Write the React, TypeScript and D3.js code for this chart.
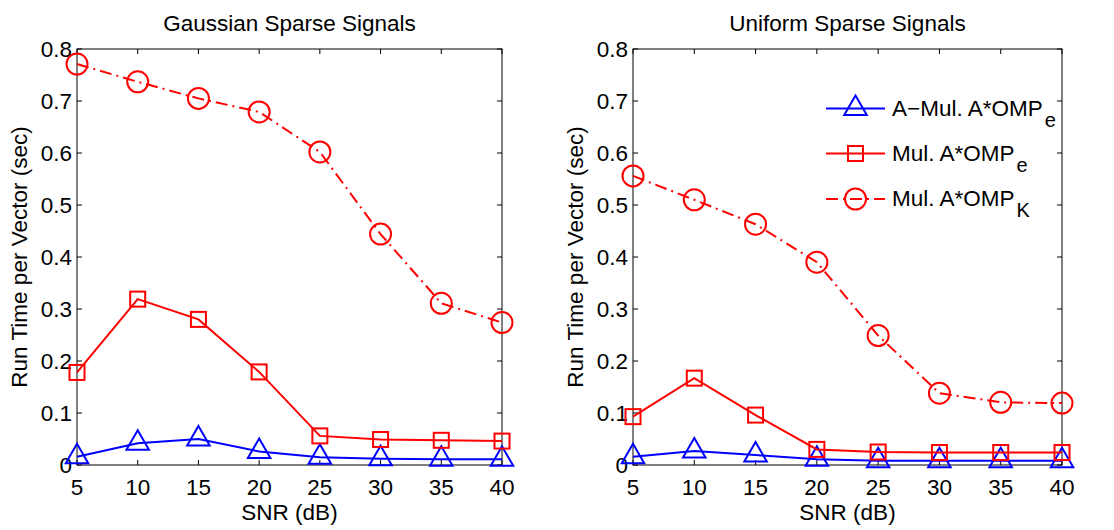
import React from "react";
import * as d3 from "d3";

const snr = [5, 10, 15, 20, 25, 30, 35, 40];
const xTicks = [5, 10, 15, 20, 25, 30, 35, 40];
const yTicks = [0, 0.1, 0.2, 0.3, 0.4, 0.5, 0.6, 0.7, 0.8];

const gaussAMulE = [0.016, 0.042, 0.05, 0.026, 0.015, 0.012, 0.011, 0.011];
const gaussMulE = [0.178, 0.319, 0.28, 0.179, 0.056, 0.049, 0.0475, 0.046];
const gaussMulK = [0.771, 0.737, 0.705, 0.679, 0.602, 0.444, 0.311, 0.274];

const unifAMulE = [0.016, 0.027, 0.019, 0.011, 0.008, 0.008, 0.008, 0.008];
const unifMulE = [0.093, 0.167, 0.096, 0.03, 0.025, 0.024, 0.024, 0.024];
const unifMulK = [0.556, 0.51, 0.463, 0.39, 0.249, 0.138, 0.1205, 0.119];

const titles = ["Gaussian Sparse Signals", "Uniform Sparse Signals"];
const legendLabels = [
  { main: "A\u2212Mul. A*OMP", sub: "e" },
  { main: "Mul. A*OMP", sub: "e" },
  { main: "Mul. A*OMP", sub: "K" },
];

const FONT = "'Liberation Sans', Arial, Helvetica, sans-serif";
const FS = 22.5;
const RED = "#ff0000";
const BLUE = "#0000ff";
const DASHDOT = "12,5,2,5";

type Kind = "tri" | "sq" | "circ";

function Marker({ kind, cx, cy, color }: { kind: Kind; cx: number; cy: number; color: string }) {
  if (kind === "circ") return <circle cx={cx} cy={cy} r={10.5} fill="none" stroke={color} strokeWidth={2} />;
  if (kind === "sq") return <rect x={cx - 7.5} y={cy - 7.5} width={15} height={15} fill="none" stroke={color} strokeWidth={2} />;
  const R = 13;
  const hw = R * Math.cos(Math.PI / 6);
  const pts = `${cx},${cy - R} ${cx + hw},${cy + R / 2} ${cx - hw},${cy + R / 2}`;
  return <polygon points={pts} fill="none" stroke={color} strokeWidth={2} />;
}

function Panel({ x0, x1, title, series, legend }: {
  x0: number; x1: number; title: string;
  series: { vals: number[]; kind: Kind; color: string; dash?: string }[];
  legend: boolean;
}) {
  const top = 49, bottom = 465;
  const x = d3.scaleLinear().domain([5, 40]).range([x0, x1]);
  const y = d3.scaleLinear().domain([0, 0.8]).range([bottom, top]);
  const line = d3.line<number>().x((_, i) => x(snr[i])).y((v) => y(v));
  const tl = 5;
  const cx = (x0 + x1) / 2;
  const legY = [108.5, 153.5, 199];
  const lx0 = x0 + 193, lx1 = x0 + 252, lm = (lx0 + lx1) / 2, ltx = x0 + 259;
  return (
    <g fontFamily={FONT} fontSize={FS} fill="#000">
      <rect x={x0} y={top} width={x1 - x0} height={bottom - top} fill="#fff" stroke="none" />
      {xTicks.map((t) => (
        <g key={"x" + t}>
          <line x1={x(t)} x2={x(t)} y1={bottom} y2={bottom - tl} stroke="#000" strokeWidth={1} />
          <line x1={x(t)} x2={x(t)} y1={top} y2={top + tl} stroke="#000" strokeWidth={1} />
          <text x={x(t)} y={495} textAnchor="middle">{t}</text>
        </g>
      ))}
      {yTicks.map((t) => (
        <g key={"y" + t}>
          <line x1={x0} x2={x0 + tl} y1={y(t)} y2={y(t)} stroke="#000" strokeWidth={1} />
          <line x1={x1} x2={x1 - tl} y1={y(t)} y2={y(t)} stroke="#000" strokeWidth={1} />
          <text x={x0 - 5} y={y(t) + 8} textAnchor="end">{t === 0 ? "0" : t.toFixed(1)}</text>
        </g>
      ))}
      <rect x={x0} y={top} width={x1 - x0} height={bottom - top} fill="none" stroke="#000" strokeWidth={1} />
      <text x={cx} y={31} textAnchor="middle">{title}</text>
      <text x={cx} y={520} textAnchor="middle">SNR (dB)</text>
      <text transform={`translate(${x0 - 50},${(top + bottom) / 2}) rotate(-90)`} textAnchor="middle">Run Time per Vector (sec)</text>
      {series.map((s, si) => (
        <g key={"s" + si}>
          <path d={line(s.vals) || ""} fill="none" stroke={s.color} strokeWidth={2} strokeDasharray={s.dash} />
          {s.vals.map((v, i) => (
            <Marker key={i} kind={s.kind} cx={x(snr[i])} cy={y(v)} color={s.color} />
          ))}
        </g>
      ))}
      {legend && series.map((s, si) => (
        <g key={"l" + si}>
          <line x1={lx0} x2={lx1} y1={legY[si]} y2={legY[si]} stroke={s.color} strokeWidth={2} strokeDasharray={s.dash} />
          <Marker kind={s.kind} cx={lm} cy={legY[si]} color={s.color} />
          <text x={ltx} y={legY[si] + 7}>
            {legendLabels[si].main}
            <tspan dx={2} dy={11} fontSize={20}>{legendLabels[si].sub}</tspan>
          </text>
        </g>
      ))}
    </g>
  );
}

export default function App() {
  const mk = (a: number[], b: number[], c: number[]) => [
    { vals: a, kind: "tri" as Kind, color: BLUE },
    { vals: b, kind: "sq" as Kind, color: RED },
    { vals: c, kind: "circ" as Kind, color: RED, dash: DASHDOT },
  ];
  return (
    <svg width={1114} height={530} style={{ position: "absolute", left: 0, top: 0, background: "#fff" }}>
      <rect width={1114} height={530} fill="#fff" />
      <Panel x0={77} x1={502} title={titles[0]} series={mk(gaussAMulE, gaussMulE, gaussMulK)} legend={false} />
      <Panel x0={633} x1={1062} title={titles[1]} series={mk(unifAMulE, unifMulE, unifMulK)} legend={true} />
    </svg>
  );
}
